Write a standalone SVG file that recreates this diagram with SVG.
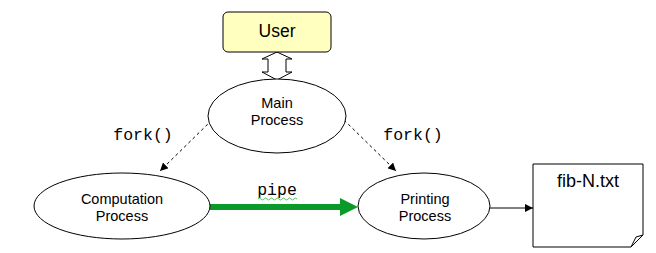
<svg xmlns="http://www.w3.org/2000/svg" width="656" height="253" viewBox="0 0 656 253">
  <style>
    .node { fill: #ffffff; stroke: #000000; stroke-width: 1; }
    .lbl { font-family: "Liberation Sans", Arial, sans-serif; font-size: 14.5px; fill: #000000; text-anchor: middle; }
    .code { font-family: "Liberation Mono", "Courier New", monospace; font-size: 16.5px; fill: #000000; text-anchor: middle; }
    .dash { fill: none; stroke: #000000; stroke-width: 1; stroke-dasharray: 3 3; }
  </style>
  <defs>
    <marker id="headBlack" viewBox="0 0 10 10" refX="10" refY="5" markerWidth="8" markerHeight="8" markerUnits="userSpaceOnUse" orient="auto">
      <path d="M0,0 L10,5 L0,10 z" fill="#000000"/>
    </marker>
  </defs>
  <rect width="656" height="253" fill="#ffffff"/>

  <g id="connectors">
    <!-- hollow two-way arrow between User and Main Process -->
    <path d="M277,52 L292,59 L286,59 L286,72 L292,72 L277,80 L262,72 L268,72 L268,59 L262,59 Z" fill="#ffffff" stroke="#000000" stroke-width="1"/>
    <!-- fork() dashed arrows -->
    <line class="dash" x1="212" y1="120" x2="160" y2="171" marker-end="url(#headBlack)"/>
    <line class="dash" x1="344" y1="120" x2="396" y2="171" marker-end="url(#headBlack)"/>
    <!-- pipe arrow -->
    <line x1="210" y1="207" x2="342" y2="207" stroke="#0a9a2a" stroke-width="6"/>
    <path d="M340,198 L358,207 L340,216 Z" fill="#0a9a2a"/>
    <!-- output to file -->
    <line x1="490" y1="208" x2="533" y2="208" stroke="#000000" stroke-width="1" marker-end="url(#headBlack)"/>
  </g>

  <g id="labels">
    <text class="code" x="143" y="140">fork()</text>
    <text class="code" x="413" y="140">fork()</text>
    <text class="code" x="277" y="195">pipe</text>
    <path d="M258,199 q1.5,-2 3,0 t3,0 t3,0 t3,0 t3,0 t3,0 t3,0 t3,0 t3,0 t3,0 t3,0 t3,0 t3,0" fill="none" stroke="#3aa53a" stroke-width="0.8"/>
  </g>

  <g id="user">
    <rect x="223" y="12" width="108" height="40" rx="5" ry="5" fill="#ffffc0" stroke="#000000" stroke-width="1"/>
    <text class="lbl" x="277" y="37" style="font-size:17.5px">User</text>
  </g>

  <g id="main-process">
    <ellipse class="node" cx="277" cy="116" rx="69" ry="37"/>
    <text class="lbl" x="277" y="108">Main</text>
    <text class="lbl" x="277" y="125">Process</text>
  </g>

  <g id="computation-process">
    <ellipse class="node" cx="122" cy="206" rx="88" ry="33"/>
    <text class="lbl" x="122" y="204">Computation</text>
    <text class="lbl" x="122" y="221">Process</text>
  </g>

  <g id="printing-process">
    <ellipse class="node" cx="424" cy="206" rx="66" ry="33"/>
    <text class="lbl" x="425" y="204">Printing</text>
    <text class="lbl" x="425" y="221">Process</text>
  </g>

  <g id="fib-file">
    <path d="M533,164 L643,164 L643,235 L631,247 L533,247 Z" fill="#ffffff" stroke="#000000" stroke-width="1"/>
    <path d="M643,235 L636,237 L631,247" fill="none" stroke="#000000" stroke-width="1"/>
    <text class="lbl" x="588" y="187" style="font-size:18px">fib-N.txt</text>
  </g>
</svg>
